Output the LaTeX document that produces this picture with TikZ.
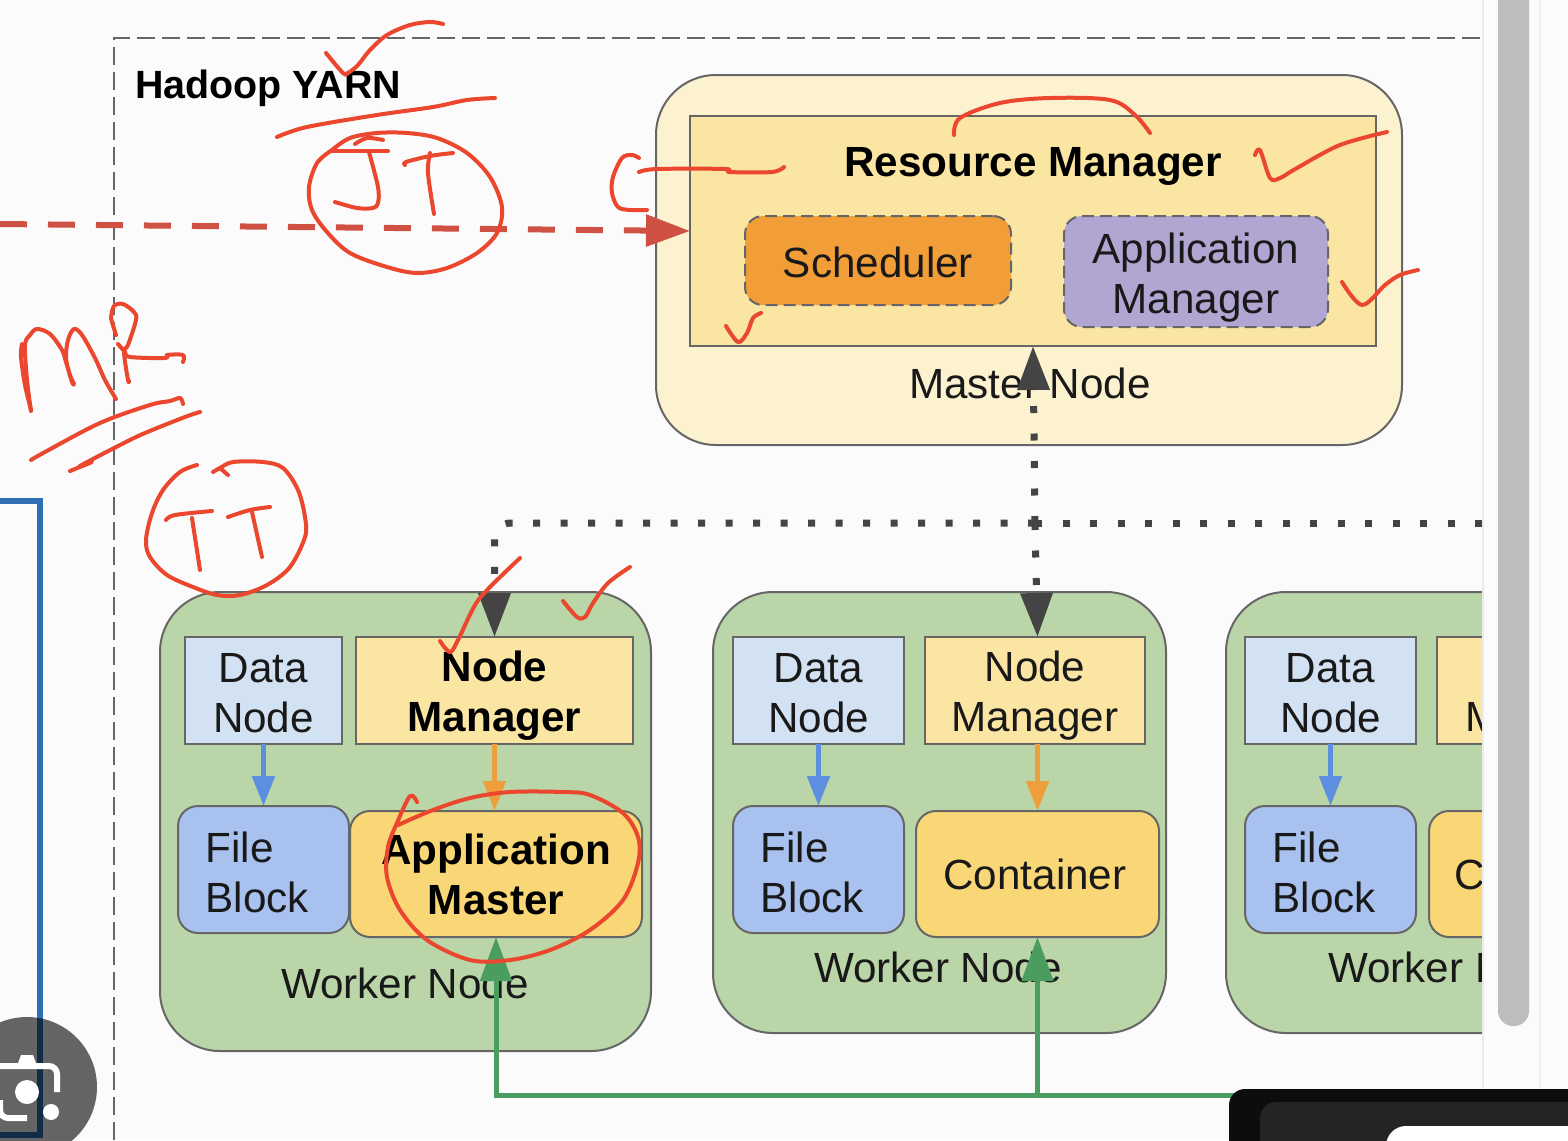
\documentclass[tikz,border=0pt]{standalone}
\usepackage{fontspec}
\setmainfont{Liberation Sans}
\usetikzlibrary{arrows.meta}
\definecolor{pagebg}{HTML}{FBFBFB}
\definecolor{edge}{HTML}{666666}
\definecolor{masterfill}{HTML}{FDF2CF}
\definecolor{rmfill}{HTML}{FBE5A3}
\definecolor{orangefill}{HTML}{F19E38}
\definecolor{purplefill}{HTML}{B1A5D2}
\definecolor{greenfill}{HTML}{BAD6A8}
\definecolor{dnfill}{HTML}{D3E2F3}
\definecolor{fbfill}{HTML}{A8C1EE}
\definecolor{amfill}{HTML}{FAD776}
\definecolor{arrowblue}{HTML}{5D8FE0}
\definecolor{arroworange}{HTML}{EE9F3C}
\definecolor{arrowgreen}{HTML}{4A9C5F}
\definecolor{arrowred}{HTML}{CF5143}
\definecolor{arrowdark}{HTML}{444444}
\definecolor{scribblered}{HTML}{EA472E}
\definecolor{outerblue}{HTML}{2F70B5}
\newcommand{\bx}[7]{%
  \pgfmathsetmacro\bxw{(#4-#2)/2}%
  \pgfmathsetmacro\bxh{(#5-#3)/2}%
  \node[#6, minimum width=\bxw pt, minimum height=\bxh pt] (#1) at ({(#2+#4)/2},{(#3+#5)/2}) {#7};}
\newcommand{\scrib}[1]{\draw[scribble] plot[smooth, tension=.55] coordinates {#1};}
\newcommand{\dnudge}[1]{\rule{0pt}{\dimexpr15.3pt+#1pt\relax}}
\tikzset{
  x=.5pt, y=-.5pt,
  base/.style={inner sep=0pt, outer sep=0pt, draw=edge, line width=1pt, align=center,
    font=\fontsize{21.1}{25}\selectfont, text=black!90},
  masterbox/.style={base, fill=masterfill, rounded corners=30pt},
  rmbox/.style={base, fill=rmfill},
  schedbox/.style={base, fill=orangefill, dash pattern=on 6pt off 3pt, rounded corners=9pt},
  appbox/.style={schedbox, fill=purplefill},
  workerbox/.style={base, fill=greenfill, rounded corners=30pt},
  dnbox/.style={base, fill=dnfill},
  nmbox/.style={base, fill=rmfill},
  fbbox/.style={base, fill=fbfill, rounded corners=10pt, align=left, text width=58pt, inner xsep=13.5pt},
  cbox/.style={base, fill=amfill, rounded corners=10pt},
  lbl/.style={inner sep=0pt, font=\fontsize{21.1}{25}\selectfont, text=black!90},
  boldtxt/.style={font=\fontsize{21.1}{25}\selectfont\bfseries, text=black},
  bigtip/.style={-{Triangle[length=22pt,width=15.5pt]}},
  smalltip/.style={-{Triangle[length=15pt,width=11pt]}},
  dotline/.style={draw=arrowdark, line width=3.5pt, dash pattern=on 3.5pt off 10.25pt},
  bluearrow/.style={draw=arrowblue, line width=2.5pt, smalltip},
  orangearrow/.style={draw=arroworange, line width=2.5pt, smalltip},
  greenarrow/.style={draw=arrowgreen, line width=2.5pt, bigtip},
  redarrow/.style={draw=arrowred, line width=3pt, dash pattern=on 13.5pt off 10.5pt, bigtip},
  scribble/.style={draw=scribblered, line width=2pt, line cap=round, line join=round},
}
\begin{document}
\begin{tikzpicture}
\useasboundingbox (0,0) rectangle (1568,1140);
\fill[pagebg] (0,0) rectangle (1568,1140);

% outer blue frame at left
\coordinate (blueA) at (0,501);
\coordinate (blueB) at (40,501);
\coordinate (blueC) at (40,1135);
\coordinate (blueD) at (0,1135);
\draw[outerblue, line width=3pt] (blueA) -- (blueB) -- (blueC) -- (blueD);

\begin{scope}
\clip (0,0) rectangle (1482,1140);
% dashed YARN frame
\coordinate (frameA) at (114,1140);
\coordinate (frameB) at (114,38);
\coordinate (frameC) at (1482,38);
\draw[edge, line width=1pt, dash pattern=on 9pt off 3.5pt] (frameA) -- (frameB) -- (frameC);
\node[inner sep=0pt, anchor=west, font=\fontsize{19.7}{24}\selectfont\bfseries, text=black] (title) at (135,88) {Hadoop YARN};

% master
\bx{master}{656}{75}{1402}{445}{masterbox}{}
\bx{rm}{690}{116}{1376}{346}{rmbox}{}
\node[lbl, boldtxt] (rmtext) at (1033,166) {Resource Manager};
\bx{sched}{745}{216}{1011}{305}{schedbox}{\rule{0pt}{17pt}Scheduler}
\bx{appm}{1064}{216}{1328}{327}{appbox}{\dnudge{6}Application\\Manager}
\node[lbl] (mastertext) at (1030,383) {Master Node};

% worker 1
\bx{w1}{160}{592}{651}{1051}{workerbox}{}
\bx{dn1}{185}{637}{342}{744}{dnbox}{\dnudge{2}Data\\Node}
\bx{nm1}{356}{637}{633}{744}{nmbox,font=\fontsize{21.1}{25}\selectfont\bfseries,text=black}{\dnudge{5}Node\\Manager}
\bx{fb1}{178}{806}{349}{933}{fbbox}{\dnudge{3}File\\Block}
\bx{am1}{350}{811}{642}{937}{cbox,font=\fontsize{21.1}{25}\selectfont\bfseries,text=black}{Application\\Master}
\node[lbl] (w1text) at (405,983) {Worker Node};

% worker 2
\bx{w2}{713}{592}{1166}{1033}{workerbox}{}
\bx{dn2}{733}{637}{904}{744}{dnbox}{\dnudge{2}Data\\Node}
\bx{nm2}{925}{637}{1145}{744}{nmbox}{\dnudge{5}Node\\Manager}
\bx{fb2}{733}{806}{904}{933}{fbbox}{\dnudge{3}File\\Block}
\bx{c2}{916}{811}{1159}{937}{cbox}{Container\hspace{2.5pt}}
\node[lbl] (w2text) at (938,967) {Worker Node};

% worker 3 (cut by the window edge)
\bx{w3}{1226}{592}{1700}{1033}{workerbox}{}
\bx{dn3}{1245}{637}{1416}{744}{dnbox}{\dnudge{2}Data\\Node}
\bx{nm3}{1437}{637}{1660}{744}{nmbox}{\dnudge{5}Node\\Manager}
\bx{fb3}{1245}{806}{1416}{933}{fbbox}{\dnudge{3}File\\Block}
\bx{c3}{1429}{811}{1672}{937}{cbox}{Container\hspace{5pt}}
\node[lbl] (w3text) at (1452,967) {Worker Node};

% connectors
\draw[bluearrow] (dn1) -- (fb1);
\draw[orangearrow] (nm1.south) -- (nm1.south |- am1.north);
\draw[bluearrow] (dn2) -- (fb2);
\draw[orangearrow] (c2.north |- nm2.south) -- (c2.north);
\draw[bluearrow] (dn3) -- (fb3);

\coordinate (dotj) at (1035,523);
\coordinate (dotr) at (1482,523);
\draw[dotline, bigtip] (dotj) -- (rm.south);
\draw[dotline, bigtip] (dotj) -- (nm2.north -| c2.north);
\draw[dotline] (dotj) -- (dotr);
\draw[dotline, bigtip, rounded corners=8pt] (dotj) -| (nm1.north);

\coordinate (greenstart) at (1240,1095);
\draw[greenarrow] (greenstart) -| (am1.south);
\draw[greenarrow] (greenstart -| c2.south) -- (c2.south);

\coordinate (redstart) at (0,224);
\draw[redarrow] (redstart) -- (rm.west);
\end{scope}

% window chrome
\draw[black!8, line width=1pt] (1483,0) -- (1483,1089);
\draw[black!6, line width=1pt] (1540,0) -- (1540,1089);
\fill[black!26, rounded corners=7.5pt] (1498,-40) rectangle (1529,1026);

% camera button
\fill[black, opacity=.6] (27,1087) circle [radius=70];
\draw[white, line width=3pt, rounded corners=4pt] (0,1066) -- (57,1066) -- (57,1092);
\fill[white] (17,1066) -- (21,1055) -- (33,1055) -- (37,1066) -- cycle;
\draw[white, line width=3pt, rounded corners=4pt] (0,1100) -- (0,1118) -- (27,1118);
\fill[white] (27,1092) circle [radius=12];
\fill[white] (51,1112) circle [radius=8];

% dark panel
\fill[black!95, rounded corners=8pt] (1229,1089) rectangle (1600,1180);
\fill[black!86, rounded corners=8pt] (1260,1102) rectangle (1600,1180);
\fill[white, rounded corners=10pt] (1386,1126) rectangle (1600,1180);

% red handwriting
\scrib{(326,53)(343,73)(348,73)(358,65)(370,50)(387,35)(410,25)(430,22)(443,24)}
\scrib{(277,137)(307,127)(377,115)(433,107)(467,100)(495,98)}
\scrib{(332,150)(317,163)(309,187)(312,210)(327,232)(350,253)(387,267)(417,273)(447,268)(477,253)(497,233)(502,207)(490,177)(467,153)(437,138)(407,133)(377,133)(350,138)(332,150)}
\scrib{(355,144)(367,138)(383,140)}
\scrib{(332,151)(388,151)}
\scrib{(369,152)(378,187)(378,203)(373,208)(357,208)(335,202)}
\scrib{(405,165)(406,162)(430,156)(453,153)}
\scrib{(430,153)(428,173)(434,214)}
\scrib{(954,135)(960,118)(1000,103)(1050,98)(1110,100)(1135,115)(1150,133)}
\scrib{(1255,155)(1260,150)(1270,178)(1280,178)(1297,168)(1340,145)(1387,132)}
\scrib{(639,158)(632,155)(622,158)(613,177)(612,193)(618,207)(630,210)(647,210)}
\scrib{(639,172)(657,169)(725,169)(730,172)(772,172)(784,167)}
\scrib{(726,326)(738,342)(747,333)(753,318)(761,313)}
\scrib{(1342,282)(1362,305)(1385,285)(1400,275)(1418,270)}
\scrib{(31,411)(27,380)(25,345)(30,335)(37,329)(50,334)(62,350)(66,362)(72,382)(74,384)(70,375)(66,358)(68,340)(74,329)(82,335)(95,358)(105,380)(116,399)}
\scrib{(22,344)(21,357)(25,385)(31,410)}
\scrib{(116,335)(112,322)(111,318)(114,306)(123,304)(134,312)(136,320)(128,345)(124,352)(128,380)(129,381)}
\scrib{(118,344)(125,352)(130,357)(165,358)(167,355)(183,355)(183,362)}
\scrib{(31,460)(45,452)(100,423)(150,405)(170,401)(180,398)(183,404)}
\scrib{(70,471)(92,462)(80,466)(120,445)(145,433)(185,417)(200,412)}
\scrib{(197,465)(180,472)(163,490)(152,513)(146,540)(150,557)(167,575)(193,587)(217,595)(240,595)(267,585)(290,567)(305,537)(305,517)(298,490)(283,468)(263,462)(233,462)(220,468)(213,472)}
\scrib{(220,468)(228,475)}
\scrib{(166,520)(175,515)(212,511)}
\scrib{(192,518)(200,570)}
\scrib{(228,517)(250,510)(270,507)}
\scrib{(252,512)(262,557)}
\scrib{(440,641)(450,652)(458,640)(475,605)(490,587)(520,558)}
\scrib{(563,601)(577,617)(585,617)(593,603)(608,583)(630,567)}
\scrib{(417,802)(410,796)(397,823)(388,847)(387,877)(400,910)(427,940)(470,960)(510,960)(550,950)(590,930)(623,900)(638,863)(638,837)(623,813)(590,795)(563,792)(510,792)(470,798)(433,810)(398,825)}
\end{tikzpicture}
\end{document}
